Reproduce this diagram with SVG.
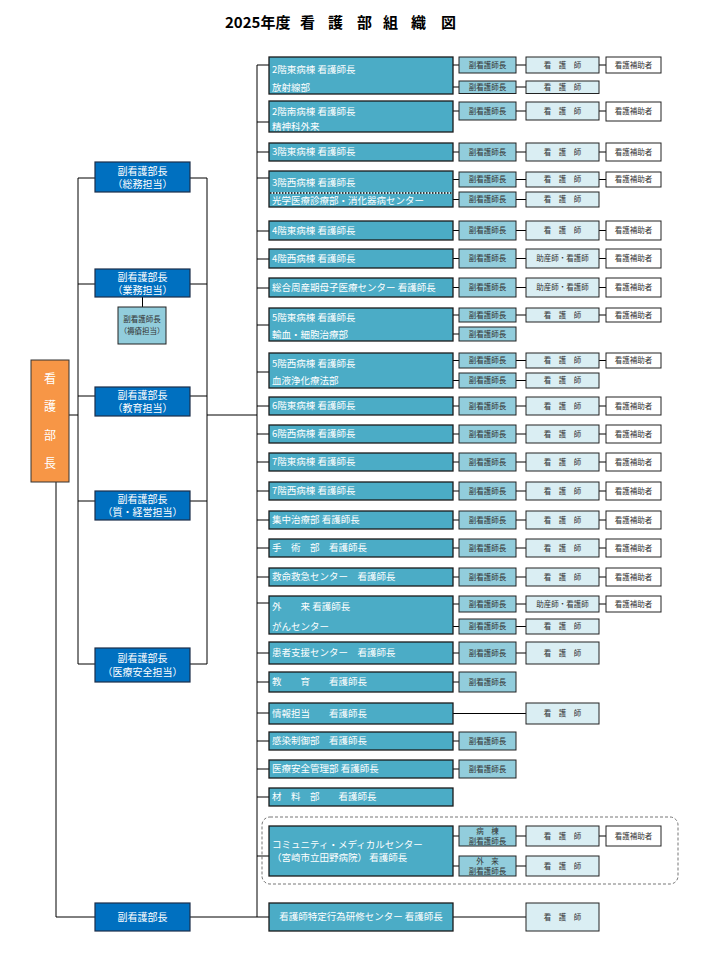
<svg xmlns="http://www.w3.org/2000/svg" width="720" height="960" viewBox="0 0 720 960">
<style>
text{font-family:"Noto Sans CJK JP","Noto Sans CJK SC",sans-serif}
.title{font-size:15px;font-weight:bold;fill:#000}
.hd{fill:#4BACC6;stroke:#1a1a1a;stroke-width:1.3}
.ht{font-size:9.5px;fill:#fff}
.vc{fill:#0070C0;stroke:#1c2d4a;stroke-width:1.2}
.vt{font-size:10px;fill:#fff;text-anchor:middle}
.f{fill:#92CDDC;stroke:#222;stroke-width:1}
.n{fill:#DAEEF3;stroke:#222;stroke-width:1}
.a{fill:#fff;stroke:#222;stroke-width:1}
.st{font-size:7.5px;fill:#333;text-anchor:middle}
.ln{stroke:#000;stroke-width:1;fill:none}
</style>
<rect width="720" height="960" fill="#fff"/>
<text class="title" x="225" y="28">2025年度<tspan x="300">看</tspan><tspan x="328">護</tspan><tspan x="357">部</tspan><tspan x="383">組</tspan><tspan x="411">織</tspan><tspan x="441">図</tspan></text>

<g id="connectors" class="ln">
<path d="M69 415H78M78 178V664M78 178H95M78 284H95M78 396H95M78 501H95M78 664H95"/>
<path d="M190 178H207M190 284H207M190 396H207M190 501H207M190 664H207M207 178V664M207 415H257"/>
<path d="M142.5 297V307"/>
<path d="M56 482V917H95M190 917H257"/>
<path d="M257 65V917"/>
<path d="M257 65H269M257 122H269M257 152H269M257 178H269M257 231H269M257 259H269M257 288H269M257 325H269M257 372H269M257 406H269M257 434H269M257 462H269M257 491H269M257 520H269M257 548H269M257 577H269M257 603H269M257 653H269M257 682H269M257 713H269M257 741H269M257 769H269M257 797H269M257 856H269M257 917H269"/>
<path d="M453 65H459M516 65H526M599 65H606M453 87H459M516 87H526"/>
<path d="M453 111H459M516 111H526M599 111H606"/>
<path d="M453 152H459M516 152H526M599 152H606"/>
<path d="M453 179.5H459M516 179.5H526M599 179.5H606M453 199.5H459M516 199.5H526"/>
<path d="M453 230.5H459M516 230.5H526M599 230.5H606"/>
<path d="M453 258.5H459M516 258.5H526M599 258.5H606"/>
<path d="M453 287.5H459M516 287.5H526M599 287.5H606"/>
<path d="M453 315H459M516 315H526M599 315H606M453 334H459"/>
<path d="M453 360.5H459M516 360.5H526M599 360.5H606M453 380.5H459M516 380.5H526"/>
<path d="M453 406H459M516 406H526M599 406H606"/>
<path d="M453 434H459M516 434H526M599 434H606"/>
<path d="M453 462H459M516 462H526M599 462H606"/>
<path d="M453 491H459M516 491H526M599 491H606"/>
<path d="M453 520H459M516 520H526M599 520H606"/>
<path d="M453 548H459M516 548H526M599 548H606"/>
<path d="M453 577H459M516 577H526M599 577H606"/>
<path d="M453 604H459M516 604H526M599 604H606M453 626.5H459M516 626.5H526"/>
<path d="M453 653H459M516 653H526"/>
<path d="M453 682H459"/>
<path d="M453 713.5H526"/>
<path d="M453 741H459"/>
<path d="M453 769H459"/>
<path d="M453 836H459M516 836H526M599 836H606M453 866H459M516 866H526"/>
<path d="M453 917H526"/>
</g>

<g id="director">
<rect x="31" y="360" width="38" height="122" fill="#F79646" stroke="#333" stroke-width="1"/>
<text x="50" y="383" font-size="12" fill="#fff" text-anchor="middle">看</text>
<text x="50" y="411" font-size="12" fill="#fff" text-anchor="middle">護</text>
<text x="50" y="440" font-size="12" fill="#fff" text-anchor="middle">部</text>
<text x="50" y="468" font-size="12" fill="#fff" text-anchor="middle">長</text>
</g>

<g id="vice-soumu"><rect class="vc" x="95" y="162" width="95" height="30"/><text class="vt" x="142.5" y="175">副看護部長</text><text class="vt" x="142.5" y="188">（総務担当）</text></g>
<g id="vice-gyomu"><rect class="vc" x="95" y="269" width="95" height="28"/><text class="vt" x="142.5" y="280.5">副看護部長</text><text class="vt" x="142.5" y="293.5">（業務担当）</text></g>
<g id="sub-jokuso"><rect class="f" x="118" y="307" width="48" height="37"/><text class="st" x="142" y="322">副看護師長</text><text class="st" x="142" y="334" font-size="7">（褥瘡担当）</text></g>
<g id="vice-kyoiku"><rect class="vc" x="95" y="387" width="95" height="29"/><text class="vt" x="142.5" y="399">副看護部長</text><text class="vt" x="142.5" y="412">（教育担当）</text></g>
<g id="vice-keiei"><rect class="vc" x="95" y="491" width="95" height="29"/><text class="vt" x="142.5" y="503">副看護部長</text><text class="vt" x="142.5" y="516">（質・経営担当）</text></g>
<g id="vice-anzen"><rect class="vc" x="95" y="648" width="95" height="34"/><text class="vt" x="142.5" y="662">副看護部長</text><text class="vt" x="142.5" y="676">（医療安全担当）</text></g>
<g id="vice-bottom"><rect class="vc" x="95" y="903" width="95" height="28"/><text class="vt" x="142.5" y="921">副看護部長</text></g>

<g id="r1">
<rect class="hd" x="269" y="57" width="184" height="37"/>
<text class="ht" x="272" y="73.4">2階東病棟 看護師長</text>
<text class="ht" x="272" y="91.4">放射線部</text>
<rect class="f" x="459" y="57" width="57" height="16"/><text class="st" x="487.5" y="67.7">副看護師長</text>
<rect class="n" x="526" y="57" width="73" height="16"/><text class="st" x="562.5" y="67.7">看　護　師</text>
<rect class="a" x="606" y="57" width="55" height="16"/><text class="st" x="633.5" y="67.7">看護補助者</text>
<rect class="f" x="459" y="81" width="57" height="12.5"/><text class="st" x="487.5" y="90">副看護師長</text>
<rect class="n" x="526" y="81" width="73" height="12.5"/><text class="st" x="562.5" y="90">看　護　師</text>
</g>

<g id="r2">
<rect class="hd" x="269" y="101" width="184" height="31"/>
<text class="ht" x="272" y="115">2階南病棟 看護師長</text>
<text class="ht" x="272" y="130.4">精神科外来</text>
<rect class="f" x="459" y="102" width="57" height="18"/><text class="st" x="487.5" y="113.7">副看護師長</text>
<rect class="n" x="526" y="102" width="73" height="18"/><text class="st" x="562.5" y="113.7">看　護　師</text>
<rect class="a" x="606" y="102" width="55" height="19"/><text class="st" x="633.5" y="114.2">看護補助者</text>
</g>

<g id="r3">
<rect class="hd" x="269" y="143" width="184" height="18"/>
<text class="ht" x="272" y="155.4">3階東病棟 看護師長</text>
<rect class="f" x="459" y="143" width="57" height="18"/><text class="st" x="487.5" y="154.7">副看護師長</text>
<rect class="n" x="526" y="143" width="73" height="18"/><text class="st" x="562.5" y="154.7">看　護　師</text>
<rect class="a" x="606" y="143" width="55" height="18"/><text class="st" x="633.5" y="154.7">看護補助者</text>
</g>

<g id="r4">
<rect class="hd" x="269" y="171" width="184" height="36"/>
<line x1="270" y1="193" x2="452" y2="193" stroke="#fff" stroke-width="1.5"/>
<line x1="270" y1="193" x2="452" y2="193" stroke="#000" stroke-width="1.5" stroke-dasharray="1.5,1.5"/>
<text class="ht" x="272" y="186.4">3階西病棟 看護師長</text>
<text class="ht" x="272" y="203.6">光学医療診療部・消化器病センター</text>
<rect class="f" x="459" y="172" width="57" height="15"/><text class="st" x="487.5" y="182.2">副看護師長</text>
<rect class="n" x="526" y="172" width="73" height="15"/><text class="st" x="562.5" y="182.2">看　護　師</text>
<rect class="a" x="606" y="172" width="55" height="15"/><text class="st" x="633.5" y="182.2">看護補助者</text>
<rect class="f" x="459" y="192" width="57" height="15"/><text class="st" x="487.5" y="202.2">副看護師長</text>
<rect class="n" x="526" y="192" width="73" height="15"/><text class="st" x="562.5" y="202.2">看　護　師</text>
</g>

<g id="r5">
<rect class="hd" x="269" y="221" width="184" height="19"/>
<text class="ht" x="272" y="234">4階東病棟 看護師長</text>
<rect class="f" x="459" y="221" width="57" height="19"/><text class="st" x="487.5" y="233.2">副看護師長</text>
<rect class="n" x="526" y="221" width="73" height="19"/><text class="st" x="562.5" y="233.2">看　護　師</text>
<rect class="a" x="606" y="221" width="55" height="19"/><text class="st" x="633.5" y="233.2">看護補助者</text>
</g>

<g id="r6">
<rect class="hd" x="269" y="249" width="184" height="19"/>
<text class="ht" x="272" y="262">4階西病棟 看護師長</text>
<rect class="f" x="459" y="249" width="57" height="19"/><text class="st" x="487.5" y="261.2">副看護師長</text>
<rect class="n" x="526" y="249" width="73" height="19"/><text class="st" x="562.5" y="261.2">助産師・看護師</text>
<rect class="a" x="606" y="249" width="55" height="19"/><text class="st" x="633.5" y="261.2">看護補助者</text>
</g>

<g id="r7">
<rect class="hd" x="269" y="278" width="184" height="19"/>
<text class="ht" x="272" y="291">総合周産期母子医療センター 看護師長</text>
<rect class="f" x="459" y="278" width="57" height="19"/><text class="st" x="487.5" y="290.2">副看護師長</text>
<rect class="n" x="526" y="278" width="73" height="19"/><text class="st" x="562.5" y="290.2">助産師・看護師</text>
<rect class="a" x="606" y="278" width="55" height="19"/><text class="st" x="633.5" y="290.2">看護補助者</text>
</g>

<g id="r8">
<rect class="hd" x="269" y="308" width="184" height="33"/>
<text class="ht" x="272" y="321.4">5階東病棟 看護師長</text>
<text class="ht" x="272" y="338.4">輸血・細胞治療部</text>
<rect class="f" x="459" y="308" width="57" height="14"/><text class="st" x="487.5" y="317.7">副看護師長</text>
<rect class="n" x="526" y="308" width="73" height="14"/><text class="st" x="562.5" y="317.7">看　護　師</text>
<rect class="a" x="606" y="308" width="55" height="14"/><text class="st" x="633.5" y="317.7">看護補助者</text>
<rect class="f" x="459" y="327" width="57" height="14"/><text class="st" x="487.5" y="336.7">副看護師長</text>
</g>

<g id="r9">
<rect class="hd" x="269" y="353" width="184" height="35"/>
<text class="ht" x="272" y="367.4">5階西病棟 看護師長</text>
<text class="ht" x="272" y="384.4">血液浄化療法部</text>
<rect class="f" x="459" y="353" width="57" height="15"/><text class="st" x="487.5" y="363.2">副看護師長</text>
<rect class="n" x="526" y="353" width="73" height="15"/><text class="st" x="562.5" y="363.2">看　護　師</text>
<rect class="a" x="606" y="353" width="55" height="15"/><text class="st" x="633.5" y="363.2">看護補助者</text>
<rect class="f" x="459" y="373" width="57" height="15"/><text class="st" x="487.5" y="383.2">副看護師長</text>
<rect class="n" x="526" y="373" width="73" height="15"/><text class="st" x="562.5" y="383.2">看　護　師</text>
</g>

<g id="r10">
<rect class="hd" x="269" y="397" width="184" height="18"/>
<text class="ht" x="272" y="409.4">6階東病棟 看護師長</text>
<rect class="f" x="459" y="397" width="57" height="18"/><text class="st" x="487.5" y="408.7">副看護師長</text>
<rect class="n" x="526" y="397" width="73" height="18"/><text class="st" x="562.5" y="408.7">看　護　師</text>
<rect class="a" x="606" y="397" width="55" height="18"/><text class="st" x="633.5" y="408.7">看護補助者</text>
</g>

<g id="r11">
<rect class="hd" x="269" y="425" width="184" height="18"/>
<text class="ht" x="272" y="437.4">6階西病棟 看護師長</text>
<rect class="f" x="459" y="425" width="57" height="18"/><text class="st" x="487.5" y="436.7">副看護師長</text>
<rect class="n" x="526" y="425" width="73" height="18"/><text class="st" x="562.5" y="436.7">看　護　師</text>
<rect class="a" x="606" y="425" width="55" height="18"/><text class="st" x="633.5" y="436.7">看護補助者</text>
</g>

<g id="r12">
<rect class="hd" x="269" y="453" width="184" height="18"/>
<text class="ht" x="272" y="465.4">7階東病棟 看護師長</text>
<rect class="f" x="459" y="453" width="57" height="18"/><text class="st" x="487.5" y="464.7">副看護師長</text>
<rect class="n" x="526" y="453" width="73" height="18"/><text class="st" x="562.5" y="464.7">看　護　師</text>
<rect class="a" x="606" y="453" width="55" height="18"/><text class="st" x="633.5" y="464.7">看護補助者</text>
</g>

<g id="r13">
<rect class="hd" x="269" y="482" width="184" height="18"/>
<text class="ht" x="272" y="494.4">7階西病棟 看護師長</text>
<rect class="f" x="459" y="482" width="57" height="18"/><text class="st" x="487.5" y="493.7">副看護師長</text>
<rect class="n" x="526" y="482" width="73" height="18"/><text class="st" x="562.5" y="493.7">看　護　師</text>
<rect class="a" x="606" y="482" width="55" height="18"/><text class="st" x="633.5" y="493.7">看護補助者</text>
</g>

<g id="r14">
<rect class="hd" x="269" y="511" width="184" height="18"/>
<text class="ht" x="272" y="523.4">集中治療部 看護師長</text>
<rect class="f" x="459" y="511" width="57" height="18"/><text class="st" x="487.5" y="522.7">副看護師長</text>
<rect class="n" x="526" y="511" width="73" height="18"/><text class="st" x="562.5" y="522.7">看　護　師</text>
<rect class="a" x="606" y="511" width="55" height="18"/><text class="st" x="633.5" y="522.7">看護補助者</text>
</g>

<g id="r15">
<rect class="hd" x="269" y="539" width="184" height="18"/>
<text class="ht" x="272" y="551.4">手　術　部　看護師長</text>
<rect class="f" x="459" y="539" width="57" height="18"/><text class="st" x="487.5" y="550.7">副看護師長</text>
<rect class="n" x="526" y="539" width="73" height="18"/><text class="st" x="562.5" y="550.7">看　護　師</text>
<rect class="a" x="606" y="539" width="55" height="18"/><text class="st" x="633.5" y="550.7">看護補助者</text>
</g>

<g id="r16">
<rect class="hd" x="269" y="568" width="184" height="18"/>
<text class="ht" x="272" y="580.4">救命救急センター　看護師長</text>
<rect class="f" x="459" y="568" width="57" height="18"/><text class="st" x="487.5" y="579.7">副看護師長</text>
<rect class="n" x="526" y="568" width="73" height="18"/><text class="st" x="562.5" y="579.7">看　護　師</text>
<rect class="a" x="606" y="568" width="55" height="18"/><text class="st" x="633.5" y="579.7">看護補助者</text>
</g>

<g id="r17">
<rect class="hd" x="269" y="596" width="184" height="38"/>
<text class="ht" x="272" y="610.4">外　　来 看護師長</text>
<text class="ht" x="272" y="630.4">がんセンター</text>
<rect class="f" x="459" y="596" width="57" height="16"/><text class="st" x="487.5" y="606.7">副看護師長</text>
<rect class="n" x="526" y="596" width="73" height="16"/><text class="st" x="562.5" y="606.7">助産師・看護師</text>
<rect class="a" x="606" y="596" width="55" height="16"/><text class="st" x="633.5" y="606.7">看護補助者</text>
<rect class="f" x="459" y="619" width="57" height="15"/><text class="st" x="487.5" y="629.2">副看護師長</text>
<rect class="n" x="526" y="619" width="73" height="15"/><text class="st" x="562.5" y="629.2">看　護　師</text>
</g>

<g id="r18">
<rect class="hd" x="269" y="642" width="184" height="22"/>
<text class="ht" x="272" y="656.4">患者支援センター　看護師長</text>
<rect class="f" x="459" y="642" width="57" height="22"/><text class="st" x="487.5" y="655.7">副看護師長</text>
<rect class="n" x="526" y="642" width="73" height="22"/><text class="st" x="562.5" y="655.7">看　護　師</text>
</g>

<g id="r19">
<rect class="hd" x="269" y="672" width="184" height="20"/>
<text class="ht" x="272" y="685.4">教　　育　　看護師長</text>
<rect class="f" x="459" y="672" width="57" height="20"/><text class="st" x="487.5" y="684.7">副看護師長</text>
</g>

<g id="r20">
<rect class="hd" x="269" y="703" width="184" height="21"/>
<text class="ht" x="272" y="716.9">情報担当　　看護師長</text>
<rect class="n" x="526" y="703" width="73" height="21"/><text class="st" x="562.5" y="716.2">看　護　師</text>
</g>

<g id="r21">
<rect class="hd" x="269" y="732" width="184" height="18"/>
<text class="ht" x="272" y="744.4">感染制御部　看護師長</text>
<rect class="f" x="459" y="732" width="57" height="18"/><text class="st" x="487.5" y="743.7">副看護師長</text>
</g>

<g id="r22">
<rect class="hd" x="269" y="760" width="184" height="18"/>
<text class="ht" x="272" y="772.4">医療安全管理部 看護師長</text>
<rect class="f" x="459" y="760" width="57" height="18"/><text class="st" x="487.5" y="771.7">副看護師長</text>
</g>

<g id="r23">
<rect class="hd" x="269" y="788" width="184" height="18"/>
<text class="ht" x="272" y="800.4">材　料　部　　看護師長</text>
</g>

<g id="r24">
<rect x="262" y="817" width="416" height="67" rx="8" fill="none" stroke="#777" stroke-width="1" stroke-dasharray="3,2"/>
<rect class="hd" x="269" y="826" width="184" height="50"/>
<text class="ht" x="272" y="848.4">コミュニティ・メディカルセンター</text>
<text class="ht" x="272" y="861">（宮崎市立田野病院） 看護師長</text>
<rect class="f" x="459" y="826" width="57" height="20"/><text class="st" x="487.5" y="833.8" font-size="7">病　棟</text><text class="st" x="487.5" y="844" font-size="7">副看護師長</text>
<rect class="n" x="526" y="826" width="73" height="20"/><text class="st" x="562.5" y="838.7">看　護　師</text>
<rect class="a" x="606" y="826" width="55" height="20"/><text class="st" x="633.5" y="838.7">看護補助者</text>
<rect class="f" x="459" y="856" width="57" height="20"/><text class="st" x="487.5" y="863.8" font-size="7">外　来</text><text class="st" x="487.5" y="874" font-size="7">副看護師長</text>
<rect class="n" x="526" y="856" width="73" height="20"/><text class="st" x="562.5" y="868.7">看　護　師</text>
</g>

<g id="r25">
<rect class="hd" x="269" y="903" width="184" height="28"/>
<text class="ht" x="361" y="920.4" text-anchor="middle">看護師特定行為研修センター 看護師長</text>
<rect class="n" x="526" y="903" width="73" height="28"/><text class="st" x="562.5" y="919.7">看　護　師</text>
</g>
</svg>
